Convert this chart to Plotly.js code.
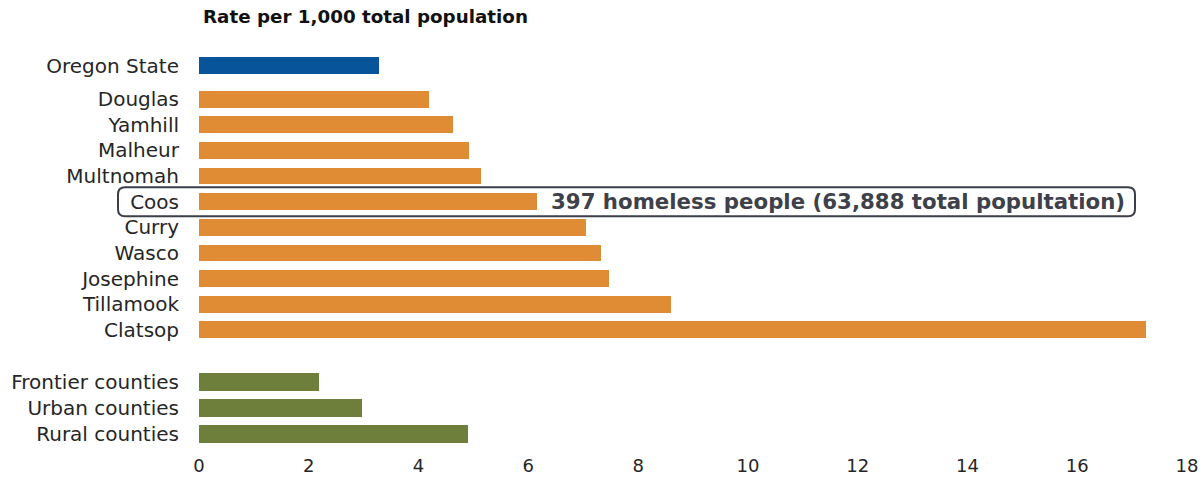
<!DOCTYPE html>
<html>
<head>
<meta charset="utf-8">
<script src="https://cdn.plot.ly/plotly-3.0.1.min.js"></script>
<style>html,body{margin:0;padding:0;background:#fff;}#chart{width:1204px;height:480px;}</style>
</head>
<body>
<div id="chart"></div>
<script>
// ---- data ----
const stateLabels = ['Oregon State'];
const stateValues = [3.28];

const countyLabels = ['Douglas', 'Yamhill', 'Malheur', 'Multnomah', 'Coos', 'Curry', 'Wasco', 'Josephine', 'Tillamook', 'Clatsop'];
const countyValues = [4.19, 4.63, 4.92, 5.14, 6.16, 7.05, 7.32, 7.47, 8.60, 17.25];

const groupLabels = ['Frontier counties', 'Urban counties', 'Rural counties'];
const groupValues = [2.19, 2.97, 4.90];

const xTickVals = [0, 2, 4, 6, 8, 10, 12, 14, 16, 18];
const titleText = 'Rate per 1,000 total population';
const calloutCounty = 'Coos';
const calloutText = '397 homeless people (63,888 total popultation)';

// ---- styling ----
const FONT = 'DejaVu Sans, Liberation Sans, Arial, sans-serif';
const BLUE = '#08549a', ORANGE = '#e08c35', GREEN = '#6e7e3b';
const BARW = 0.66;

const traces = [
  {type: 'bar', orientation: 'h', y: stateLabels, x: stateValues, xaxis: 'x', yaxis: 'y',
   marker: {color: BLUE}, width: BARW, hoverinfo: 'x+y'},
  {type: 'bar', orientation: 'h', y: countyLabels, x: countyValues, xaxis: 'x', yaxis: 'y2',
   marker: {color: ORANGE}, width: BARW, hoverinfo: 'x+y'},
  {type: 'bar', orientation: 'h', y: groupLabels, x: groupValues, xaxis: 'x', yaxis: 'y3',
   marker: {color: GREEN}, width: BARW, hoverinfo: 'x+y'}
];

const yCommon = {
  type: 'category', autorange: 'reversed', showgrid: false, zeroline: false, showline: false,
  ticks: 'outside', ticklen: 15, tickcolor: 'rgba(0,0,0,0)',
  tickfont: {family: FONT, size: 20, color: '#262626'}, fixedrange: true
};

const calloutIdx = countyLabels.indexOf(calloutCounty);
const r = 7, w0 = -81, w1 = 936, h = 14.5;
const roundedRect = `M ${w0 + r},${-h} L ${w1 - r},${-h} Q ${w1},${-h} ${w1},${-h + r} L ${w1},${h - r} Q ${w1},${h} ${w1 - r},${h} L ${w0 + r},${h} Q ${w0},${h} ${w0},${h - r} L ${w0},${-h + r} Q ${w0},${-h} ${w0 + r},${-h} Z`;

const layout = {
  width: 1204, height: 480,
  paper_bgcolor: '#fff', plot_bgcolor: '#fff',
  margin: {l: 199, r: 17, t: 53, b: 33},
  showlegend: false,
  bargap: 0,
  font: {family: FONT, color: '#262626'},
  title: {
    text: titleText, xref: 'container', x: 203 / 1204, xanchor: 'left',
    yref: 'container', y: 1 - 17 / 480, yanchor: 'middle',
    font: {family: FONT, size: 18.3, color: '#111', weight: 'bold'}
  },
  xaxis: {
    range: [0, 18], tickvals: xTickVals, anchor: 'y3', showgrid: false, zeroline: false, showline: false,
    ticks: 'outside', ticklen: 2, tickcolor: 'rgba(0,0,0,0)',
    tickfont: {family: FONT, size: 18, color: '#262626'}, fixedrange: true
  },
  yaxis: Object.assign({}, yCommon, {domain: [0.9344, 1.0], anchor: 'x'}),
  yaxis2: Object.assign({}, yCommon, {domain: [0.2645, 0.9157], anchor: 'x'}),
  yaxis3: Object.assign({}, yCommon, {domain: [0, 0.198], anchor: 'x'}),
  shapes: [{
    type: 'path', xref: 'paper', yref: 'y2', xsizemode: 'pixel', ysizemode: 'pixel',
    xanchor: 0, yanchor: calloutIdx, path: roundedRect,
    line: {color: '#3b3f4a', width: 2}, fillcolor: 'rgba(0,0,0,0)'
  }],
  annotations: [{
    xref: 'x', yref: 'y2', x: countyValues[calloutIdx], y: calloutCounty,
    xanchor: 'left', yanchor: 'middle', xshift: 12, showarrow: false,
    text: calloutText,
    font: {family: FONT, size: 21.3, color: '#3e414a', weight: 'bold'}
  }]
};

Plotly.newPlot('chart', traces, layout, {displayModeBar: false, staticPlot: true});
</script>
</body>
</html>
